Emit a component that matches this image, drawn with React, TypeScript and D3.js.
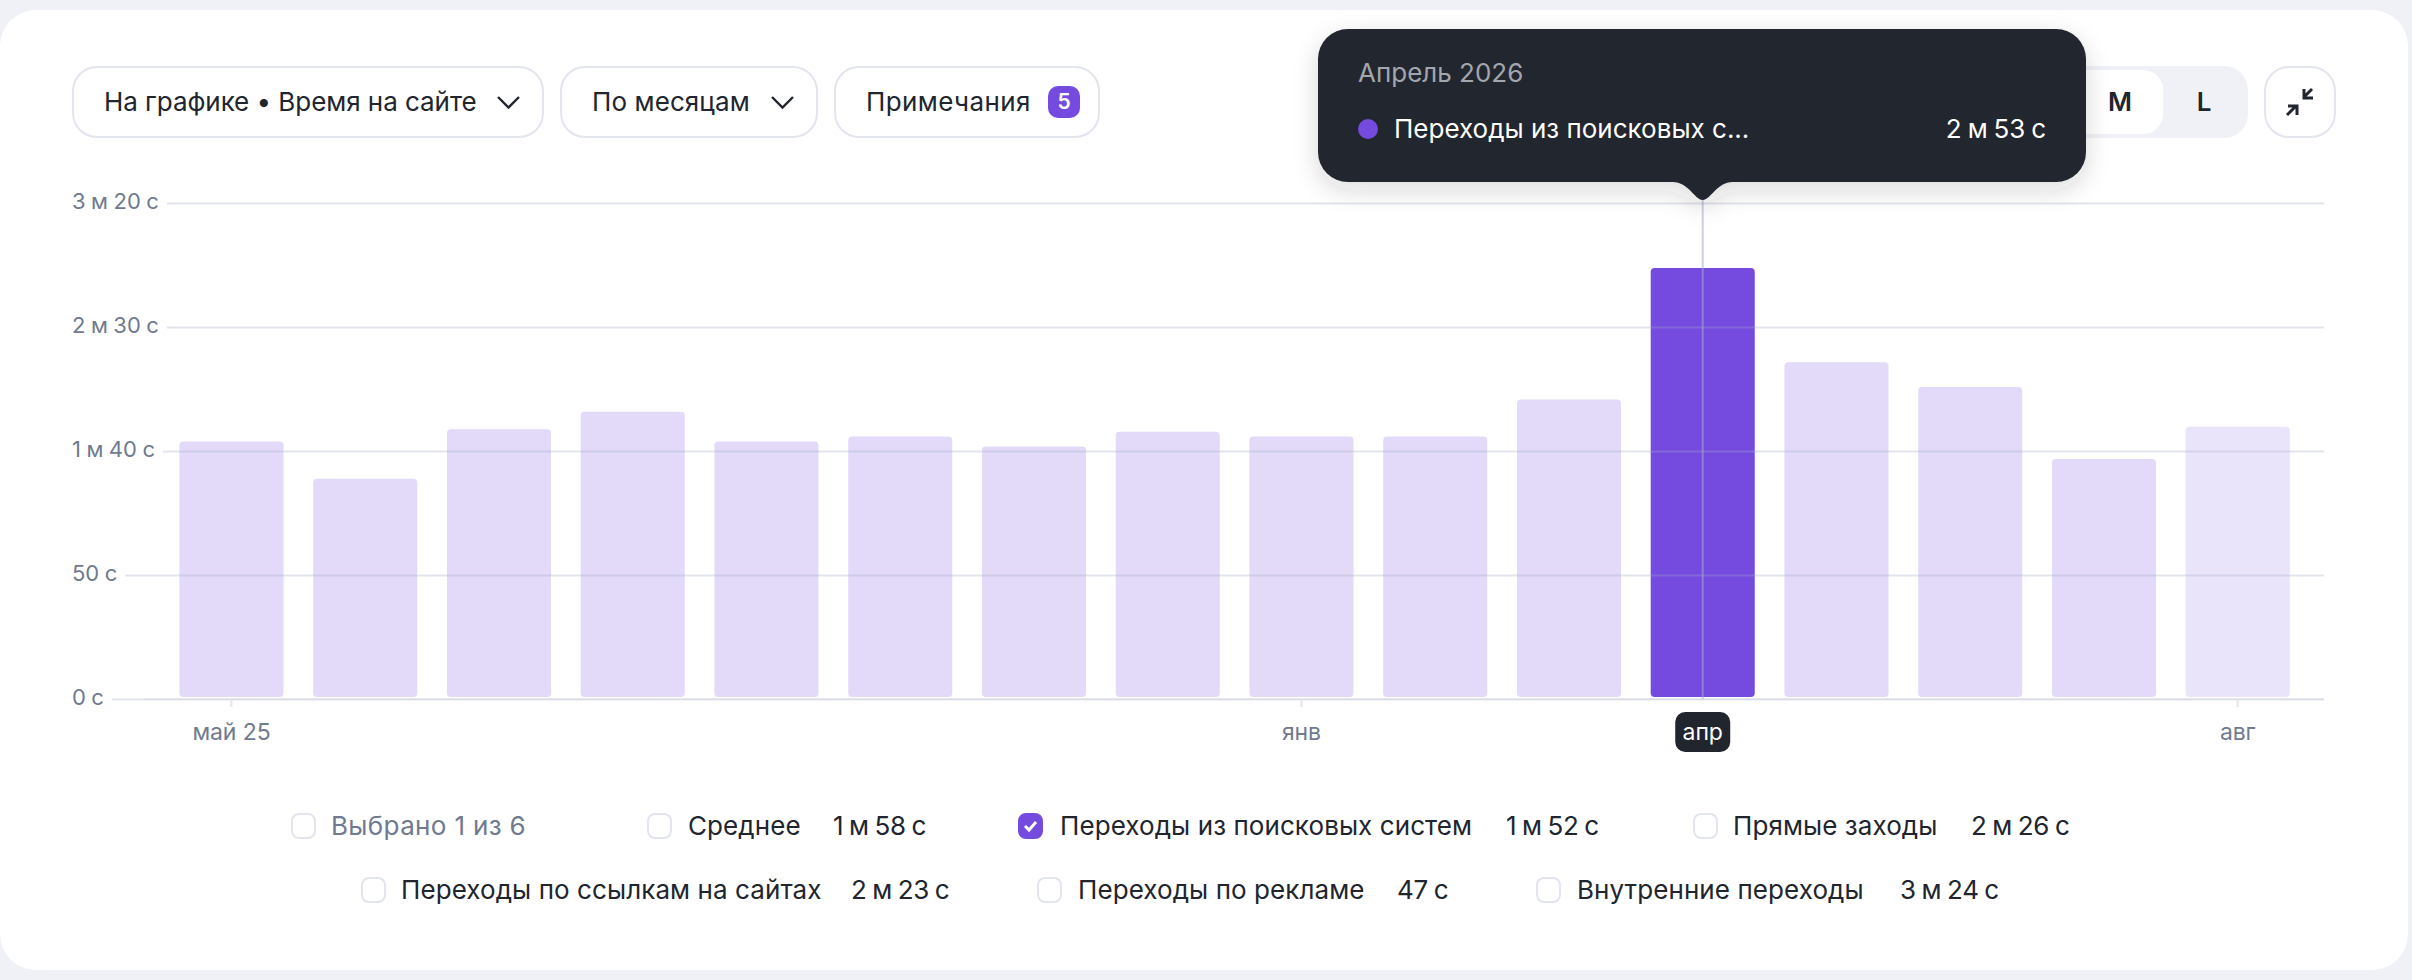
import { useEffect, useRef } from 'react';
import * as d3 from 'd3';

const months = [
    '2025-05', '2025-06', '2025-07', '2025-08', '2025-09', '2025-10', '2025-11', '2025-12',
    '2026-01', '2026-02', '2026-03', '2026-04', '2026-05', '2026-06', '2026-07', '2026-08',
];
// seconds on site
const searchVisits = [103, 88, 108, 115, 103, 105, 101, 107, 105, 105, 120, 173, 135, 125, 96, 109];
const yTicks = [0, 50, 100, 150, 200];
const xTickLabels: Record<string, string> = {
    '2025-05': 'май 25',
    '2026-01': 'янв',
    '2026-04': 'апр',
    '2026-08': 'авг',
};
const activeMonth = '2026-04';
const partialMonth = '2026-08';

const legendNames = [
    'Выбрано 1 из 6', 'Среднее', 'Переходы из поисковых систем', 'Прямые заходы',
    'Переходы по ссылкам на сайтах', 'Переходы по рекламе', 'Внутренние переходы',
];
const legendValues = ['', '1 м 58 с', '1 м 52 с', '2 м 26 с', '2 м 23 с', '47 с', '3 м 24 с'];
const legendChecked = [false, false, true, false, false, false, false];

const WIDTH = 2412;
const HEIGHT = 980;
const FONT = 'Inter, sans-serif';
const INK = '#20252e';
const MUTED = '#6f7a90';
const BORDER = '#e3e5ee';
const PURPLE = '#744bde';
const GRID = 'rgba(165,171,200,0.31)';

// layout of the legend: box x, label x, value x, row y
const LEGEND_LAYOUT = [
    [292, 331, 0, 826], [648, 688, 833, 826], [1019, 1060, 1506, 826], [1694, 1733, 1971, 826],
    [362, 401, 851, 890], [1038, 1078, 1397, 890], [1537, 1577, 1900, 890],
];

const secondsLabel = (v: number) => {
    const m = Math.floor(v / 60);
    const s = v % 60;
    return m > 0 ? `${m} м ${s} с` : `${s} с`;
};

export default function App() {
    const svgRef = useRef<SVGSVGElement>(null);

    useEffect(() => {
        const svg = d3.select(svgRef.current);
        svg.selectAll('*').remove();
        svg.attr('font-family', FONT);

        const defs = svg.append('defs');
        defs.append('filter')
            .attr('id', 'tip-shadow')
            .attr('x', '-10%').attr('y', '-20%').attr('width', '120%').attr('height', '150%')
            .append('feDropShadow')
            .attr('dx', 0).attr('dy', 8).attr('stdDeviation', 12)
            .attr('flood-color', '#20252e').attr('flood-opacity', 0.16);

        // card
        svg.append('rect').attr('width', WIDTH).attr('height', HEIGHT).attr('fill', '#eff1f6');
        svg.append('rect').attr('x', 0).attr('y', 10).attr('width', 2408).attr('height', 960).attr('rx', 36).attr('fill', '#fff');

        // scales
        const x = d3.scaleBand<string>().domain(months).range([164.6, 2304.6]).paddingInner(0.222).paddingOuter(0.111);
        const y = d3.scaleLinear().domain([0, 200]).range([699, 203]);
        const barLift = 2;

        // bars
        svg.append('g').selectAll('rect')
            .data(months)
            .join('rect')
            .attr('x', (d) => x(d)!)
            .attr('width', x.bandwidth())
            .attr('y', (_, i) => y(searchVisits[i]) - barLift)
            .attr('height', (_, i) => y(0) - y(searchVisits[i]))
            .attr('rx', 4)
            .attr('fill', (d) => (d === activeMonth ? PURPLE : d === partialMonth ? '#e9e4f9' : '#e2daf8'));

        // y axis, gridlines start right after each label
        const yAxis = svg.append('g')
            .call(d3.axisLeft(y).tickValues(yTicks).tickFormat((d) => secondsLabel(d as number)).tickSize(0));
        yAxis.select('.domain').remove();
        yAxis.selectAll('text')
            .attr('x', 72)
            .attr('dy', '0.27em')
            .attr('text-anchor', 'start')
            .attr('font-size', 22)
            .attr('font-family', FONT)
            .attr('word-spacing', -0.7)
            .attr('fill', MUTED);
        yAxis.selectAll<SVGGElement, number>('.tick').each(function () {
            const label = d3.select(this).select<SVGTextElement>('text').node()!;
            const right = label.getBBox().x + label.getBBox().width;
            d3.select(this).select('line')
                .attr('x1', right + 8)
                .attr('x2', 2324)
                .attr('stroke', GRID)
                .attr('stroke-width', 2);
        });

        // x axis
        const active = x(activeMonth)! + x.bandwidth() / 2;
        const xAxis = svg.append('g')
            .attr('transform', `translate(0,${y(0)})`)
            .call(d3.axisBottom(x)
                .tickValues(Object.keys(xTickLabels))
                .tickFormat((d) => xTickLabels[d])
                .tickSize(8)
                .tickPadding(17));
        xAxis.select('.domain')
            .attr('d', 'M144,0H2324')
            .attr('stroke', 'rgba(165,171,200,0.15)')
            .attr('stroke-width', 2);
        xAxis.selectAll('.tick line').attr('stroke', BORDER).attr('stroke-width', 2);
        xAxis.selectAll('.tick text')
            .attr('font-size', 23)
            .attr('font-family', FONT)
            .attr('letter-spacing', -0.1)
            .attr('fill', MUTED);
        xAxis.selectAll<SVGGElement, string>('.tick')
            .filter((d) => d === activeMonth)
            .each(function () {
                const tick = d3.select(this);
                tick.select('line').remove();
                tick.insert('rect', 'text')
                    .attr('x', -27.5).attr('y', 13).attr('width', 55).attr('height', 40).attr('rx', 10)
                    .attr('fill', INK);
                tick.select('text').attr('fill', '#fff');
            });

        // crosshair
        svg.append('line')
            .attr('x1', active).attr('x2', active)
            .attr('y1', 198).attr('y2', y(0))
            .attr('stroke', 'rgba(165,171,200,0.55)')
            .attr('stroke-width', 2);

        // toolbar
        const pills = [
            { x: 73, w: 470, label: 'На графике • Время на сайте', tx: 104, chevron: 498, ls: -0.05 },
            { x: 561, w: 256, label: 'По месяцам', tx: 592, chevron: 772, ls: 0.1 },
            { x: 835, w: 264, label: 'Примечания', tx: 866, chevron: 0, ls: 0.4 },
        ];
        pills.forEach((p) => {
            svg.append('rect')
                .attr('x', p.x).attr('y', 67).attr('width', p.w).attr('height', 70).attr('rx', 24)
                .attr('fill', '#fff').attr('stroke', BORDER).attr('stroke-width', 2);
            svg.append('text')
                .attr('x', p.tx).attr('y', 102).attr('dy', '0.35em')
                .attr('font-size', 26).attr('letter-spacing', p.ls).attr('fill', INK)
                .text(p.label);
            if (p.chevron) {
                svg.append('path')
                    .attr('d', `M${p.chevron},97l10.5,10.5l10.5,-10.5`)
                    .attr('fill', 'none').attr('stroke', INK).attr('stroke-width', 2.4);
            }
        });
        svg.append('rect').attr('x', 1048).attr('y', 86).attr('width', 32).attr('height', 32).attr('rx', 10).attr('fill', PURPLE);
        svg.append('text')
            .attr('x', 1064).attr('y', 102).attr('dy', '0.35em').attr('text-anchor', 'middle')
            .attr('font-size', 21).attr('font-weight', 600).attr('fill', '#fff')
            .text('5');

        // size switch, its left part sits under the tooltip
        svg.append('rect').attr('x', 1900).attr('y', 66).attr('width', 348).attr('height', 72).attr('rx', 24).attr('fill', '#eff1f6');
        svg.append('rect').attr('x', 2000).attr('y', 70).attr('width', 163).attr('height', 64).attr('rx', 20).attr('fill', '#fff');
        [['M', 2120], ['L', 2204]].forEach(([t, tx]) => {
            svg.append('text')
                .attr('x', tx).attr('y', 102).attr('dy', '0.35em').attr('text-anchor', 'middle')
                .attr('font-size', 26).attr('font-weight', 600).attr('fill', INK)
                .text(t as string);
        });
        svg.append('rect')
            .attr('x', 2265).attr('y', 67).attr('width', 70).attr('height', 70).attr('rx', 24)
            .attr('fill', '#fff').attr('stroke', BORDER).attr('stroke-width', 2);
        svg.append('path')
            .attr('d', 'M2312,89L2304,97M2304,89V98H2313M2287,115L2296,106M2288,106H2297V115')
            .attr('fill', 'none').attr('stroke', INK).attr('stroke-width', 3);

        // legend
        legendNames.forEach((name, i) => {
            const [bx, lx, vx, ry] = LEGEND_LAYOUT[i];
            svg.append('rect')
                .attr('x', bx).attr('y', ry - 12).attr('width', 23).attr('height', 24).attr('rx', 7)
                .attr('fill', legendChecked[i] ? PURPLE : '#fff')
                .attr('stroke', legendChecked[i] ? PURPLE : BORDER)
                .attr('stroke-width', 2);
            if (legendChecked[i]) {
                svg.append('path')
                    .attr('d', `M${bx + 6},${ry}l4,4l7,-8`)
                    .attr('fill', 'none').attr('stroke', '#fff').attr('stroke-width', 3);
            }
            svg.append('text')
                .attr('x', lx).attr('y', ry).attr('dy', '0.35em')
                .attr('font-size', 26)
                .attr('letter-spacing', i === 0 ? 0.35 : 0.08)
                .attr('fill', i === 0 ? MUTED : INK)
                .text(name);
            if (legendValues[i]) {
                svg.append('text')
                    .attr('x', vx).attr('y', ry).attr('dy', '0.35em')
                    .attr('font-size', 26)
                    .attr('letter-spacing', -0.2)
                    .attr('word-spacing', -1.5)
                    .attr('fill', INK)
                    .text(legendValues[i]);
            }
        });

        // tooltip
        const tip = svg.append('g').attr('filter', 'url(#tip-shadow)');
        tip.append('rect').attr('x', 1318).attr('y', 29).attr('width', 768).attr('height', 153).attr('rx', 30).attr('fill', INK);
        tip.append('path')
            .attr('d', `M${active - 30},182C${active - 14},182 ${active - 8},200 ${active},200C${active + 8},200 ${active + 14},182 ${active + 30},182Z`)
            .attr('fill', INK);
        svg.append('text')
            .attr('x', 1358).attr('y', 73).attr('dy', '0.35em')
            .attr('font-size', 26).attr('fill', '#a3a6ad')
            .text('Апрель 2026');
        svg.append('circle').attr('cx', 1368).attr('cy', 129).attr('r', 10).attr('fill', PURPLE);
        svg.append('text')
            .attr('x', 1394).attr('y', 129).attr('dy', '0.35em')
            .attr('font-size', 26).attr('fill', '#fff')
            .text('Переходы из поисковых с...');
        svg.append('text')
            .attr('x', 2046).attr('y', 129).attr('dy', '0.35em').attr('text-anchor', 'end')
            .attr('font-size', 26).attr('letter-spacing', -0.1).attr('word-spacing', -1.2).attr('fill', '#fff')
            .text(secondsLabel(searchVisits[months.indexOf(activeMonth)]));
    }, []);

    return (
        <svg
            ref={svgRef}
            width={WIDTH}
            height={HEIGHT}
            style={{ position: 'absolute', left: 0, top: 0, display: 'block' }}
        />
    );
}
